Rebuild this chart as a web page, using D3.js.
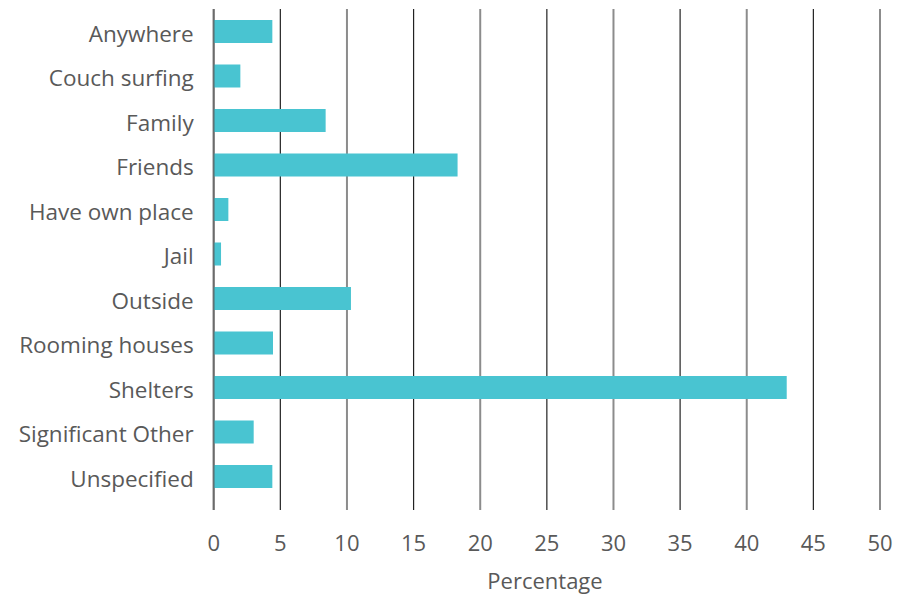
<!DOCTYPE html>
<html>
<head>
<meta charset="utf-8">
<script src="https://cdn.jsdelivr.net/npm/d3@7"></script>
<style>
  html, body { margin: 0; padding: 0; background: #fff; }
  svg { display: block; }
  text { font-family: "Open Sans", sans-serif; fill: #595959; }
</style>
</head>
<body>
<svg id="chart" width="902" height="596"></svg>
<script>
const categories = ["Anywhere", "Couch surfing", "Family", "Friends", "Have own place", "Jail",
  "Outside", "Rooming houses", "Shelters", "Significant Other", "Unspecified"];
const values = [4.4, 2.0, 8.4, 18.3, 1.1, 0.55, 10.3, 4.45, 43.0, 3.0, 4.4];
const xTicks = [0, 5, 10, 15, 20, 25, 30, 35, 40, 45, 50];
const xTitle = "Percentage";

const svg = d3.select("#chart");
const x = d3.scaleLinear().domain([0, 50]).range([213.7, 880]);
const y = d3.scalePoint().domain(categories).range([31.5, 476.5]);
const barH = 23;
const gridTop = 9, gridBottom = 510;

// gridlines
svg.append("g").selectAll("line").data(xTicks).join("line")
  .attr("x1", d => x(d)).attr("x2", d => x(d))
  .attr("y1", gridTop).attr("y2", gridBottom)
  .attr("stroke", (d, i) => i % 2 ? "#222" : "#8c8c8c")
  .attr("stroke-width", (d, i) => i % 2 ? 1.2 : 2);

// bars
svg.append("g").selectAll("rect").data(values).join("rect")
  .attr("x", x(0))
  .attr("y", (d, i) => y(categories[i]) - barH / 2)
  .attr("width", d => x(d) - x(0))
  .attr("height", barH)
  .attr("fill", "#49C4D1");

// zero axis line on top
svg.append("line")
  .attr("x1", x(0)).attr("x2", x(0)).attr("y1", gridTop).attr("y2", gridBottom)
  .attr("stroke", "#555").attr("stroke-opacity", 0.6).attr("stroke-width", 2);

// category labels
svg.append("g").selectAll("text").data(categories).join("text")
  .attr("x", x(0) - 20)
  .attr("y", d => y(d))
  .attr("dy", "0.45em")
  .attr("text-anchor", "end")
  .attr("font-size", 22.5)
  .text(d => d);

// x tick labels
svg.append("g").selectAll("text").data(xTicks).join("text")
  .attr("x", d => x(d))
  .attr("y", 551)
  .attr("text-anchor", "middle")
  .attr("font-size", 22)
  .text(d => d);

svg.append("text")
  .attr("x", 545).attr("y", 589)
  .attr("text-anchor", "middle")
  .attr("font-size", 22)
  .text(xTitle);
</script>
</body>
</html>
